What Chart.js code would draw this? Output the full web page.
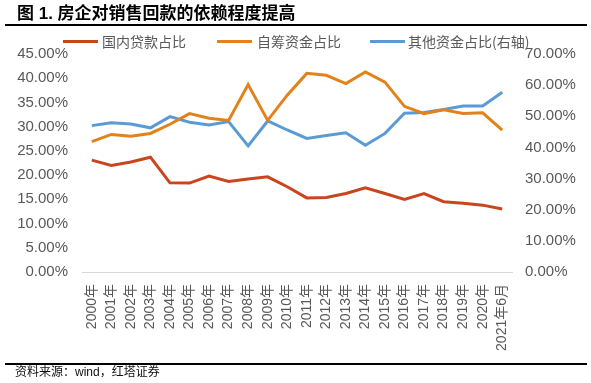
<!DOCTYPE html>
<html>
<head>
<meta charset="utf-8">
<script src="https://cdn.jsdelivr.net/npm/chart.js@4.4.1/dist/chart.umd.min.js"></script>
<style>
html,body{margin:0;padding:0;background:#fff;}
#wrap{position:relative;width:591px;height:383px;overflow:hidden;background:#fff;}
#c{position:absolute;left:0;top:0;}
.title{position:absolute;left:17px;top:5px;height:18px;line-height:18px;font-weight:bold;font-size:17px;font-family:"Liberation Sans","Noto Sans CJK SC",sans-serif;color:#000;white-space:nowrap;}
.hr{position:absolute;left:5px;width:582px;background:#000;}
.lg-line{position:absolute;height:3.5px;width:35px;top:39.5px;}
.lg-text{position:absolute;top:31px;height:20px;line-height:20px;font-size:14px;font-family:"Noto Sans CJK SC",sans-serif;color:#595959;white-space:nowrap;}
.foot{position:absolute;left:15px;top:365px;height:14px;line-height:14px;font-size:12px;font-family:"Liberation Sans","Noto Sans CJK SC",sans-serif;color:#111;white-space:nowrap;}
</style>
</head>
<body>
<div id="wrap">
  <canvas id="c" width="591" height="383"></canvas>
  <div class="title">图 1. 房企对销售回款的依赖程度提高</div>
  <div class="hr" style="top:24px;height:2px;"></div>
  <div id="legend"></div>
  <div class="hr" style="top:363px;height:1.5px;"></div>
  <div class="foot">资料来源：wind，红塔证券</div>
</div>
<script>
// ---- data ----
const categories = ['2000年','2001年','2002年','2003年','2004年','2005年','2006年','2007年','2008年','2009年','2010年','2011年','2012年','2013年','2014年','2015年','2016年','2017年','2018年','2019年','2020年','2021年6月'];
const seriesNames = ['国内贷款占比','自筹资金占比','其他资金占比(右轴)'];
const domesticLoans = [23.1,22.0,22.7,23.7,18.4,18.35,19.8,18.7,19.2,19.65,17.6,15.3,15.4,16.2,17.4,16.2,15.0,16.2,14.5,14.2,13.8,13.0];
const selfRaised = [26.9,28.4,28.0,28.6,30.5,32.7,31.75,31.3,38.7,31.3,36.5,41.0,40.6,38.9,41.3,39.2,34.2,32.7,33.5,32.7,32.85,29.3];
const otherFunds = [47.0,47.9,47.5,46.3,49.9,48.1,47.2,48.3,40.5,48.5,45.6,42.9,43.8,44.7,40.7,44.5,51.0,51.2,52.2,53.3,53.3,57.7];
const leftAxisMax = 45, leftAxisStep = 5;
const rightAxisMax = 70, rightAxisStep = 10;

const colors = ['#C8451E','#E3821A','#5B9BD5'];

// ---- HTML legend ----
const legendPos = [{line:63,text:102},{line:217,text:257},{line:370,text:408}];
const lg = document.getElementById('legend');
seriesNames.forEach((n,i)=>{
  const l = document.createElement('div');
  l.className='lg-line'; l.style.left=legendPos[i].line+'px'; l.style.background=colors[i];
  lg.appendChild(l);
  const t = document.createElement('div');
  t.className='lg-text'; t.style.left=legendPos[i].text+'px'; t.textContent=n;
  lg.appendChild(t);
});

const tickColor = '#595959';
const tickFont = {family:'"Liberation Sans","Noto Sans CJK SC",sans-serif', size:15};
const fmt = v => Number(v).toFixed(2) + '%';

new Chart(document.getElementById('c'), {
  type: 'line',
  data: {
    labels: categories,
    datasets: [
      {label: seriesNames[0], data: domesticLoans, yAxisID: 'y', borderColor: colors[0], backgroundColor: colors[0], borderWidth: 3, pointRadius: 0, tension: 0, fill: false},
      {label: seriesNames[1], data: selfRaised, yAxisID: 'y', borderColor: colors[1], backgroundColor: colors[1], borderWidth: 3, pointRadius: 0, tension: 0, fill: false},
      {label: seriesNames[2], data: otherFunds, yAxisID: 'y1', borderColor: colors[2], backgroundColor: colors[2], borderWidth: 3, pointRadius: 0, tension: 0, fill: false}
    ]
  },
  options: {
    responsive: false,
    animation: false,
    layout: {padding: {left: 0, right: 0, top: 54, bottom: 0}},
    plugins: {legend: {display: false}, tooltip: {enabled: false}, title: {display: false}},
    scales: {
      x: {
        offset: true,
        grid: {display: false, drawTicks: false},
        border: {display: true, color: '#d9d9d9', width: 1},
        ticks: {autoSkip: false, maxRotation: 90, minRotation: 90, padding: 12, color: tickColor,
                font: {family: '"Liberation Sans","Noto Sans CJK SC",sans-serif', size: 14}},
        afterFit(s){ s.height = 111; }
      },
      y: {
        position: 'left', min: 0, max: leftAxisMax,
        grid: {display: false, drawTicks: false},
        border: {display: false},
        ticks: {stepSize: leftAxisStep, callback: fmt, padding: 14, color: tickColor, font: tickFont},
        afterFit(s){ s.width = 82; }
      },
      y1: {
        position: 'right', min: 0, max: rightAxisMax,
        grid: {display: false, drawTicks: false},
        border: {display: false},
        ticks: {stepSize: rightAxisStep, callback: fmt, padding: 13, color: tickColor, font: tickFont},
        afterFit(s){ s.width = 79; }
      }
    }
  }
});
</script>
</body>
</html>
